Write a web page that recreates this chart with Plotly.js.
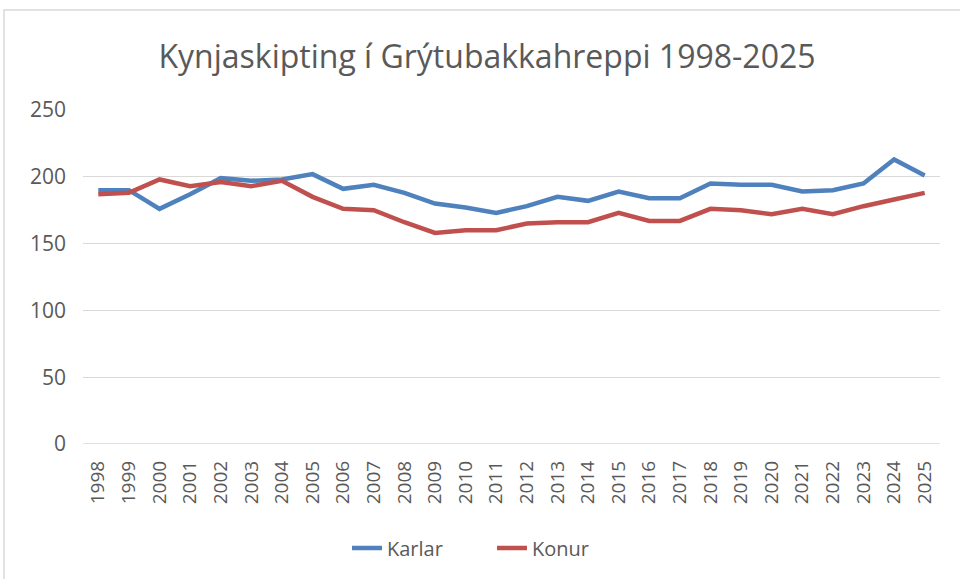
<!DOCTYPE html>
<html>
<head>
<meta charset="utf-8">
<script src="https://cdn.plot.ly/plotly-3.0.1.min.js"></script>
<style>
html,body{margin:0;padding:0;background:#fff;}
#chart{width:960px;height:579px;}
</style>
</head>
<body>
<div id="chart"></div>
<script>
const years = ["1998","1999","2000","2001","2002","2003","2004","2005","2006","2007","2008","2009","2010","2011","2012","2013","2014","2015","2016","2017","2018","2019","2020","2021","2022","2023","2024","2025"];
const karlar = [190,190,176,187,199,197,198,202,191,194,188,180,177,173,178,185,182,189,184,184,195,194,194,189,190,195,213,201];
const konur  = [187,188,198,193,196,193,197,185,176,175,166,158,160,160,165,166,166,173,167,167,176,175,172,176,172,178,183,188];
const yTicks = [0,50,100,150,200,250];

const W = 960, H = 579;
const m = {l:83, r:20, t:110, b:135};
const pw = W - m.l - m.r, ph = H - m.t - m.b;
function px(x){return (x - m.l)/pw;}
function py(y){return (H - m.b - y)/ph;}

const font = "'Open Sans', sans-serif";

const traces = [
  {x: years, y: karlar, name: "Karlar", type: "scatter", mode: "lines",
   line: {color: "#4f81bd", width: 4.5}},
  {x: years, y: konur, name: "Konur", type: "scatter", mode: "lines",
   line: {color: "#c0504d", width: 4.5}}
];

const layout = {
  width: W, height: H,
  margin: m,
  paper_bgcolor: "#ffffff",
  plot_bgcolor: "#ffffff",
  showlegend: true,
  title: {text: "Kynjaskipting í Grýtubakkahreppi 1998-2025",
          font: {family: font, size: 32, color: "#595959"},
          xref: "paper", x: px(487), xanchor: "center", y: 1 - 57/H, yanchor: "middle"},
  xaxis: {type: "category", range: [-0.5, years.length - 0.5],
          tickangle: -90, showgrid: false, zeroline: false,
          showline: false, ticks: "", ticklabelstandoff: 12,
          tickfont: {family: font, size: 19, color: "#595959"}},
  yaxis: {range: [0, 250], tickvals: yTicks, showgrid: true, gridcolor: "#d9d9d9",
          gridwidth: 1, zeroline: false, showline: false, ticks: "", ticklabelstandoff: 16,
          tickfont: {family: font, size: 21, color: "#595959"}},
  legend: {orientation: "h", x: px(492), xanchor: "center", y: py(548), yanchor: "middle",
           font: {family: font, size: 20, color: "#595959"}, entrywidth: 100},
  shapes: [
    {type: "rect", xref: "paper", yref: "paper",
     x0: px(4), x1: px(975), y0: py(10), y1: py(600),
     line: {color: "#d9d9d9", width: 1.5}, fillcolor: "rgba(0,0,0,0)", layer: "below"},
    {type: "line", xref: "paper", yref: "y", x0: 0, x1: 1, y0: 0, y1: 0,
     line: {color: "#d9d9d9", width: 1.5}, layer: "below"}
  ]
};

Plotly.newPlot("chart", traces, layout, {staticPlot: true, displayModeBar: false});
</script>
</body>
</html>
